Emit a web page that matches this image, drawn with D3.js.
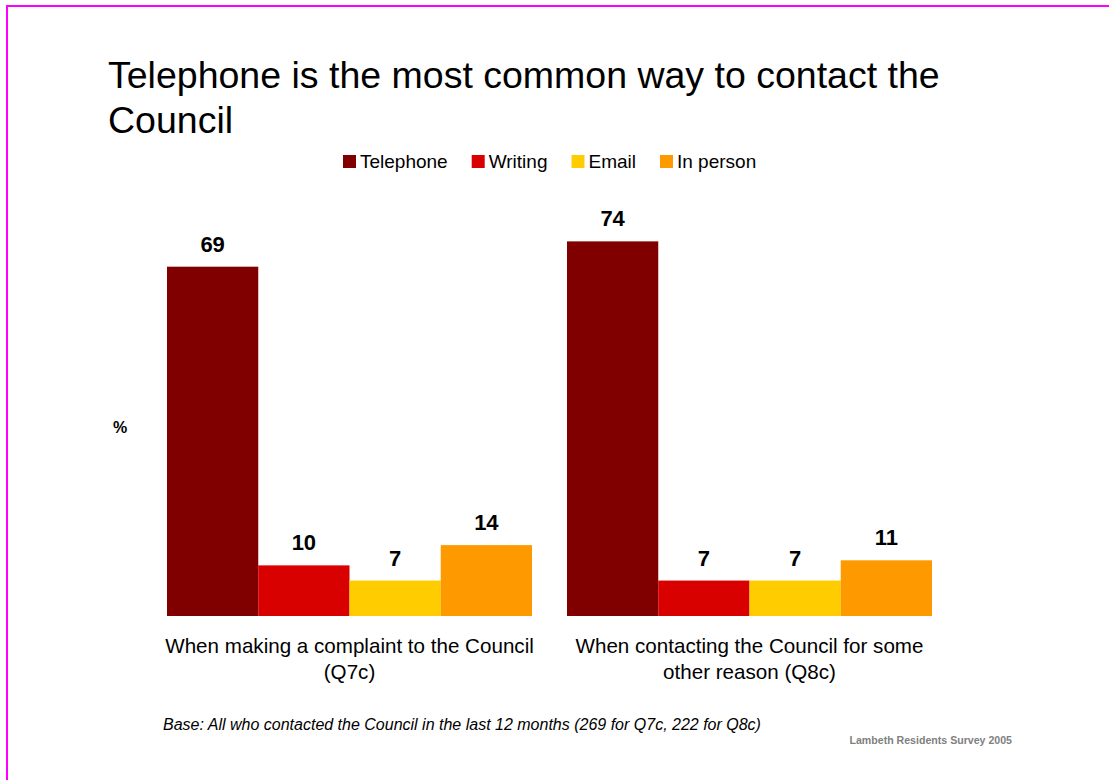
<!DOCTYPE html>
<html>
<head>
<meta charset="utf-8">
<script src="https://cdn.jsdelivr.net/npm/d3@7/dist/d3.min.js"></script>
<style>
  html, body { margin: 0; padding: 0; background: #fff; }
  svg { display: block; font-family: "Liberation Sans", Arial, sans-serif; }
</style>
</head>
<body>
<svg id="chart" width="1109" height="780"></svg>
<script>
// Contact method survey results (% of residents)
const titleLines = ["Telephone is the most common way to contact the", "Council"];
const groups = ["complaint", "other"];
const groupLabels = [
  ["When making a complaint to the Council", "(Q7c)"],
  ["When contacting the Council for some", "other reason (Q8c)"]
];
const methods = ["Telephone", "Writing", "Email", "In person"];
const complaintValues = [69, 10, 7, 14];
const otherValues = [74, 7, 7, 11];
const colors = ["#800000", "#d90000", "#ffcc00", "#ff9900"];
const footnote = "Base: All who contacted the Council in the last 12 months (269 for Q7c, 222 for Q8c)";
const sourceText = "Lambeth Residents Survey 2005";

const seriesByGroup = [complaintValues, otherValues];

const svg = d3.select("#chart");

// slide frame
svg.append("rect")
  .attr("x", 7).attr("y", 6)
  .attr("width", 1200).attr("height", 900)
  .attr("fill", "none")
  .attr("stroke", "#ff00ff")
  .attr("stroke-width", 2);

// title
const title = svg.append("text")
  .attr("x", 108).attr("y", 88)
  .attr("font-size", 37.5)
  .attr("fill", "#000");
title.selectAll("tspan").data(titleLines).join("tspan")
  .attr("x", 108)
  .attr("dy", (d, i) => i === 0 ? 0 : 45)
  .text(d => d);

// scales
const x0 = d3.scaleBand().domain(groups).range([132, 967]).paddingInner(0.0875).paddingOuter(0.0875);
const x1 = d3.scaleBand().domain(methods).range([0, x0.bandwidth()]).padding(0);
const y = d3.scaleLinear().domain([0, 80]).range([616, 211]);
const color = d3.scaleOrdinal().domain(methods).range(colors);

// legend
const legend = svg.append("g").attr("font-size", 19);
let lx = 343;
methods.forEach((m, i) => {
  const g = legend.append("g").attr("transform", `translate(${lx},155)`);
  g.append("rect").attr("width", 13).attr("height", 13).attr("fill", color(m));
  const t = g.append("text").attr("x", 17).attr("y", 12.5).attr("fill", "#000").text(m);
  lx += 17 + t.node().getComputedTextLength() + 24;
});

// bars
const groupG = svg.append("g").selectAll("g").data(groups).join("g")
  .attr("transform", d => `translate(${x0(d)},0)`);

groupG.each(function(gname, gi) {
  const g = d3.select(this);
  const rows = methods.map((m, i) => ({ method: m, value: seriesByGroup[gi][i] }));
  g.selectAll("rect").data(rows).join("rect")
    .attr("x", d => x1(d.method))
    .attr("y", d => y(d.value))
    .attr("width", x1.bandwidth())
    .attr("height", d => y(0) - y(d.value))
    .attr("fill", d => color(d.method));
  g.selectAll("text.val").data(rows).join("text")
    .attr("class", "val")
    .attr("x", d => x1(d.method) + x1.bandwidth() / 2)
    .attr("y", d => y(d.value) - 15)
    .attr("text-anchor", "middle")
    .attr("font-size", 22)
    .attr("font-weight", "bold")
    .attr("fill", "#000")
    .text(d => d.value);
  const lbl = g.append("text")
    .attr("text-anchor", "middle")
    .attr("font-size", 20.6)
    .attr("fill", "#000");
  lbl.selectAll("tspan").data(groupLabels[gi]).join("tspan")
    .attr("x", x0.bandwidth() / 2)
    .attr("y", (d, i) => 653 + i * 26)
    .text(d => d);
});

// axis unit label
svg.append("text")
  .attr("x", 113).attr("y", 433)
  .attr("font-size", 16).attr("font-weight", "bold")
  .text("%");

// footnote and source
svg.append("text")
  .attr("x", 163).attr("y", 730)
  .attr("font-size", 16).attr("font-style", "italic")
  .attr("fill", "#000")
  .text(footnote);

svg.append("text")
  .attr("x", 1012).attr("y", 744)
  .attr("text-anchor", "end")
  .attr("font-size", 10.6).attr("font-weight", "bold")
  .attr("fill", "#7f7f7f")
  .text(sourceText);
</script>
</body>
</html>
